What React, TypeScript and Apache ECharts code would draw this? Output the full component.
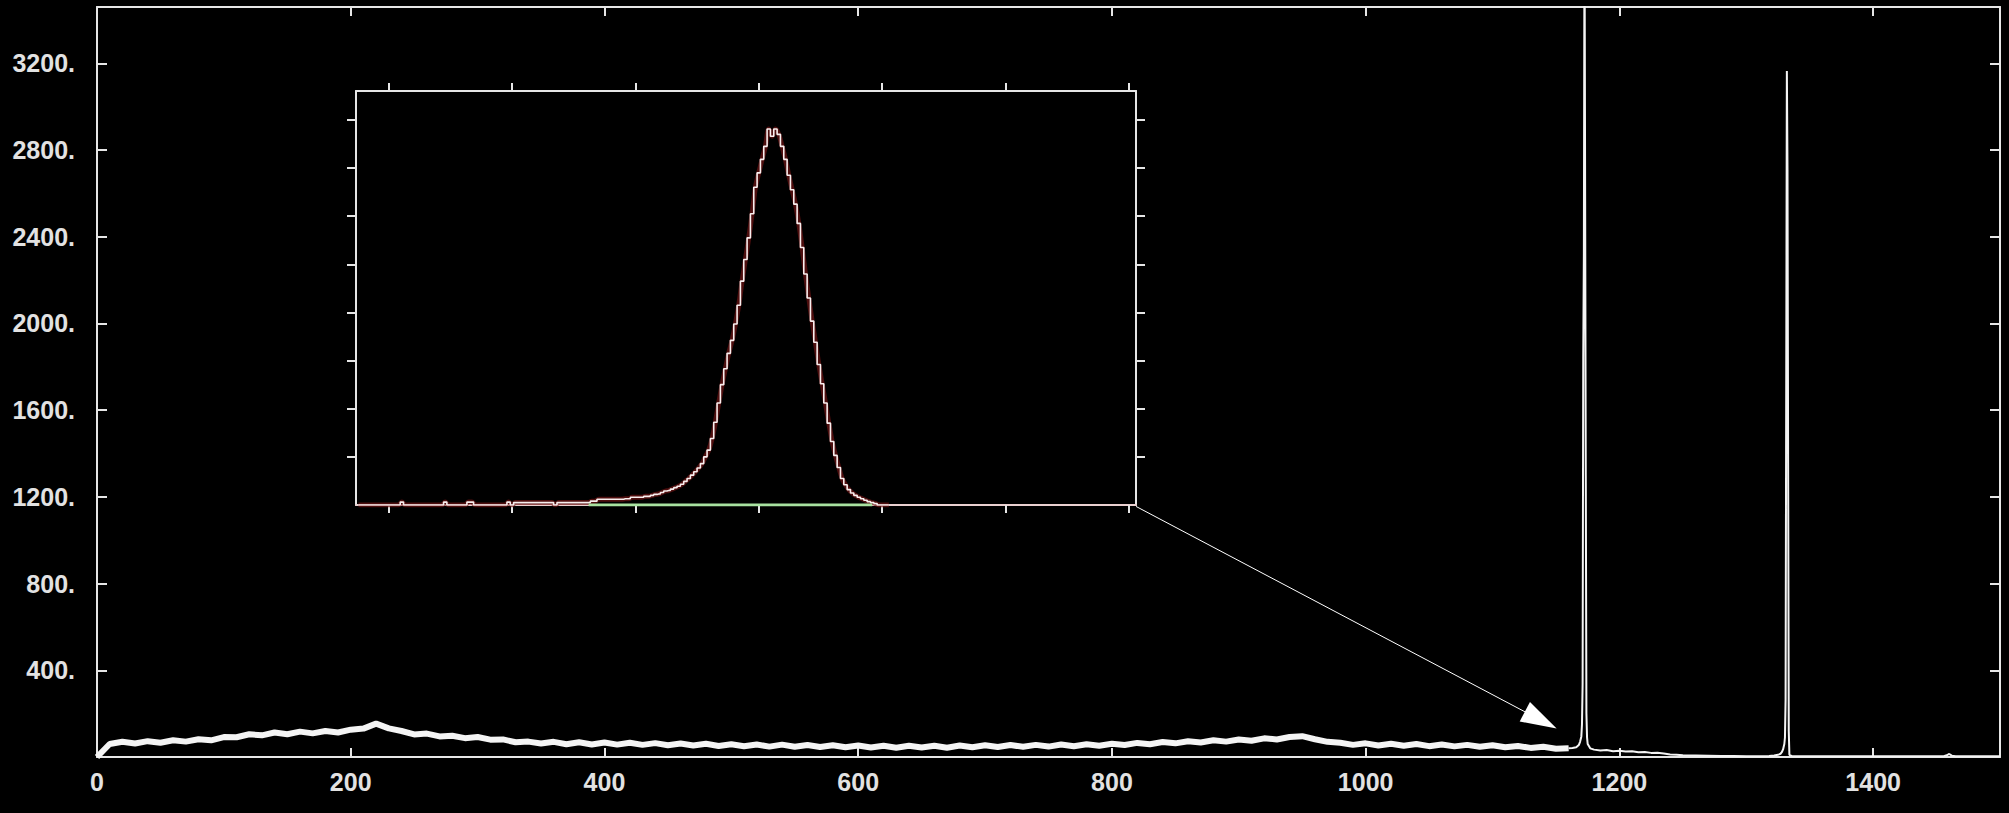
import React, { useEffect, useRef } from 'react';
import * as echarts from 'echarts';

// ---------- main spectrum ----------
const X_MAX = 1500;
const Y_MAX = 3460;
const X_TICKS = [0, 200, 400, 600, 800, 1000, 1200, 1400];
const Y_TICKS = [400, 800, 1200, 1600, 2000, 2400, 2800, 3200];

// continuum counts every 10 keV from 0 to 1160
const CONTINUUM_STEP = 10;
const CONTINUUM = [
  0, 60, 70, 62, 73, 66, 77, 71, 82, 77,
  92, 91, 105, 100, 113, 105, 117, 109, 120, 113,
  126, 131, 154, 132, 120, 104, 108, 95, 98, 87,
  92, 80, 81, 68, 71, 62, 70, 59, 68, 58,
  67, 57, 66, 56, 64, 54, 62, 53, 61, 51,
  59, 50, 58, 48, 57, 47, 55, 46, 54, 45,
  53, 44, 52, 43, 52, 44, 52, 43, 53, 45,
  54, 46, 55, 47, 56, 48, 58, 50, 59, 52,
  61, 55, 65, 59, 69, 63, 73, 67, 77, 71,
  81, 75, 86, 81, 92, 96, 82, 70, 66, 56,
  63, 53, 61, 52, 60, 50, 58, 49, 56, 47,
  54, 45, 51, 42, 47, 38, 40,
];

// photopeaks and high-energy tail: [keV, counts]
const PEAK_REGION = [
  [1160, 40], [1163, 42], [1166, 45], [1168, 55], [1169, 70], [1170, 95],
  [1170.5, 150], [1171, 336], [1171.5, 1839], [1172, 2325], [1172.5, 3900],
  [1173, 2567], [1173.5, 1297], [1174, 202], [1174.5, 90], [1175, 60],
  [1177, 40], [1180, 34], [1185, 30], [1190, 32], [1195, 27], [1200, 29],
  [1205, 25], [1210, 26], [1215, 22], [1220, 23], [1225, 19], [1230, 20],
  [1235, 16], [1240, 12], [1245, 10], [1250, 8], [1260, 7], [1270, 6],
  [1280, 5], [1290, 5], [1300, 4], [1310, 4], [1318, 5], [1322, 7],
  [1325, 10], [1327, 15], [1328, 22], [1329, 35], [1330, 60], [1330.5, 90],
  [1331, 267], [1331.5, 1728], [1332, 3165], [1332.5, 2708], [1333, 1356],
  [1333.5, 119], [1334, 10], [1336, 4], [1340, 3], [1360, 3], [1380, 3],
  [1400, 3], [1420, 3], [1440, 3], [1455, 3], [1458, 8], [1460, 14],
  [1462, 6], [1465, 3], [1480, 3], [1500, 3],
];

// arrow from the inset corner towards the foot of the 1173 keV peak
const ARROW_FROM = [819, 1156];
const ARROW_TO = [1138, 170];

// ---------- inset (zoomed peak with fit) ----------
const INSET_X_MIN = -9.75;
const INSET_X_MAX = 224.1;
const INSET_Y_MAX = 860;
const INSET_X_TICKS = [0, 37, 74, 111, 148, 185, 222];
const INSET_Y_TICKS = [100, 200, 300, 400, 500, 600, 700, 800];
const INSET_START = -9;
const INSET_COUNTS = [
  0, 0, 0, 0, 0, 0, 0, 0, 0, 0, 0, 0, 0,
  6,
  0, 0, 0, 0, 0, 0, 0, 0, 0, 0, 0, 0,
  6,
  0, 0, 0, 0, 0, 0,
  6, 6,
  0, 0, 0, 0, 0, 0, 0, 0, 0, 0,
  6, 0,
  5, 5, 5, 5, 5, 5, 5, 5, 5, 5, 5, 5,
  0,
  5, 5, 5, 5, 5, 5, 5, 5, 5, 5,
  8, 8,
  12, 12, 12, 12, 12, 12, 12, 12, 13, 13,
  16, 16, 16, 16, 18, 18, 20, 22, 23, 26,
  29, 30, 33, 36, 39, 43, 49, 55, 62, 69,
  77, 86, 100, 114, 138, 172, 212, 250, 283, 315,
  342, 376, 415, 465, 510, 555, 605, 660, 690, 718,
  745, 781, 766, 781, 770, 745, 718, 685, 655, 625,
  585, 535, 480, 430, 382, 338, 292, 252, 212, 170,
  132, 103, 78, 55, 42, 32, 25, 20, 16, 13,
  10, 7, 5, 3, 0, 0, 0, 0,
];
const ROI = [60, 145];

export default function App() {
  const ref = useRef<HTMLDivElement>(null);

  useEffect(() => {
    const el = ref.current;
    if (!el) return;
    const chart = echarts.init(el, null, { renderer: 'svg' });

    const continuumData = CONTINUUM.map((v, i) => [i * CONTINUUM_STEP, v]);
    const insetData = INSET_COUNTS.map((v, i) => [INSET_START + i, v]);

    const axisColor = '#e6e6e6';
    const labelStyle = {
      color: '#e2e2e2',
      fontFamily: '"Liberation Sans", Arial, sans-serif',
      fontWeight: 'bold' as const,
      fontSize: 25,
    };

    const mainX = (position: 'top' | 'bottom', showLabel: boolean) => ({
      type: 'value',
      gridIndex: 0,
      min: 0,
      max: X_MAX,
      position,
      axisLine: { show: true, onZero: false, lineStyle: { color: axisColor, width: 2 } },
      axisTick: {
        show: true,
        inside: true,
        length: 9,
        customValues: X_TICKS,
        lineStyle: { color: axisColor, width: 2 },
      },
      axisLabel: {
        show: showLabel,
        customValues: X_TICKS,
        margin: 12,
        formatter: (v: number) => String(v),
        ...labelStyle,
      },
      splitLine: { show: false },
    });

    const mainY = (position: 'left' | 'right', showLabel: boolean) => ({
      type: 'value',
      gridIndex: 0,
      min: 0,
      max: Y_MAX,
      position,
      axisLine: { show: true, onZero: false, lineStyle: { color: axisColor, width: 2 } },
      axisTick: {
        show: true,
        inside: true,
        length: 10,
        customValues: Y_TICKS,
        lineStyle: { color: axisColor, width: 2 },
      },
      axisLabel: {
        show: showLabel,
        customValues: Y_TICKS,
        margin: 22,
        formatter: (v: number) => `${v}.`,
        ...labelStyle,
      },
      splitLine: { show: false },
    });

    const insetX = (position: 'top' | 'bottom', lineColor: string) => ({
      type: 'value',
      gridIndex: 1,
      min: INSET_X_MIN,
      max: INSET_X_MAX,
      position,
      axisLine: { show: true, onZero: false, lineStyle: { color: lineColor, width: 2 } },
      axisTick: {
        show: true,
        inside: false,
        length: 8,
        customValues: INSET_X_TICKS,
        lineStyle: { color: axisColor, width: 2 },
      },
      axisLabel: { show: false },
      splitLine: { show: false },
    });

    const insetY = (position: 'left' | 'right') => ({
      type: 'value',
      gridIndex: 1,
      min: 0,
      max: INSET_Y_MAX,
      position,
      axisLine: { show: true, onZero: false, lineStyle: { color: axisColor, width: 2 } },
      axisTick: {
        show: true,
        inside: false,
        length: 9,
        customValues: INSET_Y_TICKS,
        lineStyle: { color: axisColor, width: 2 },
      },
      axisLabel: { show: false },
      splitLine: { show: false },
    });

    chart.setOption({
      animation: false,
      backgroundColor: '#000000',
      grid: [
        { left: 97, top: 7, width: 1903, height: 750, outerBoundsMode: 'none' },
        { left: 356, top: 91, width: 780, height: 414, outerBoundsMode: 'none' },
      ],
      xAxis: [
        mainX('bottom', true),
        mainX('top', false),
        insetX('bottom', '#ead0d0'),
        insetX('top', axisColor),
      ],
      yAxis: [mainY('left', true), mainY('right', false), insetY('left'), insetY('right')],
      series: [
        {
          name: 'continuum',
          type: 'line',
          xAxisIndex: 0,
          yAxisIndex: 0,
          data: continuumData,
          symbol: 'none',
          lineStyle: { color: '#f4f4f4', width: 6, join: 'bevel' },
          z: 3,
        },
        {
          name: 'peaks',
          type: 'line',
          xAxisIndex: 0,
          yAxisIndex: 0,
          data: PEAK_REGION,
          symbol: 'none',
          lineStyle: { color: '#f4f4f4', width: 2 },
          z: 3,
          markLine: {
            silent: true,
            symbol: ['none', 'triangle'],
            symbolSize: [22, 36],
            label: { show: false },
            lineStyle: { color: '#ffffff', width: 1, type: 'solid' },
            itemStyle: { color: '#ffffff' },
            data: [[{ coord: ARROW_FROM }, { coord: ARROW_TO }]],
          },
        },
        {
          name: 'fit',
          type: 'line',
          xAxisIndex: 2,
          yAxisIndex: 2,
          data: insetData,
          symbol: 'none',
          smooth: 0.3,
          lineStyle: { color: 'rgba(110,20,20,0.7)', width: 5 },
          z: 2,
        },
        {
          name: 'inset data',
          type: 'line',
          xAxisIndex: 2,
          yAxisIndex: 2,
          data: insetData,
          step: 'middle',
          symbol: 'none',
          lineStyle: { color: '#f8eeee', width: 1.6 },
          z: 4,
        },
        {
          name: 'ROI',
          type: 'line',
          xAxisIndex: 2,
          yAxisIndex: 2,
          data: [[ROI[0], 0], [ROI[1], 0]],
          symbol: 'none',
          lineStyle: { color: '#a8e2a0', width: 3 },
          z: 5,
        },
      ],
    });

    return () => chart.dispose();
  }, []);

  return (
    <div
      ref={ref}
      style={{ position: 'fixed', left: 0, top: 0, width: 2009, height: 813, background: '#000' }}
    />
  );
}
